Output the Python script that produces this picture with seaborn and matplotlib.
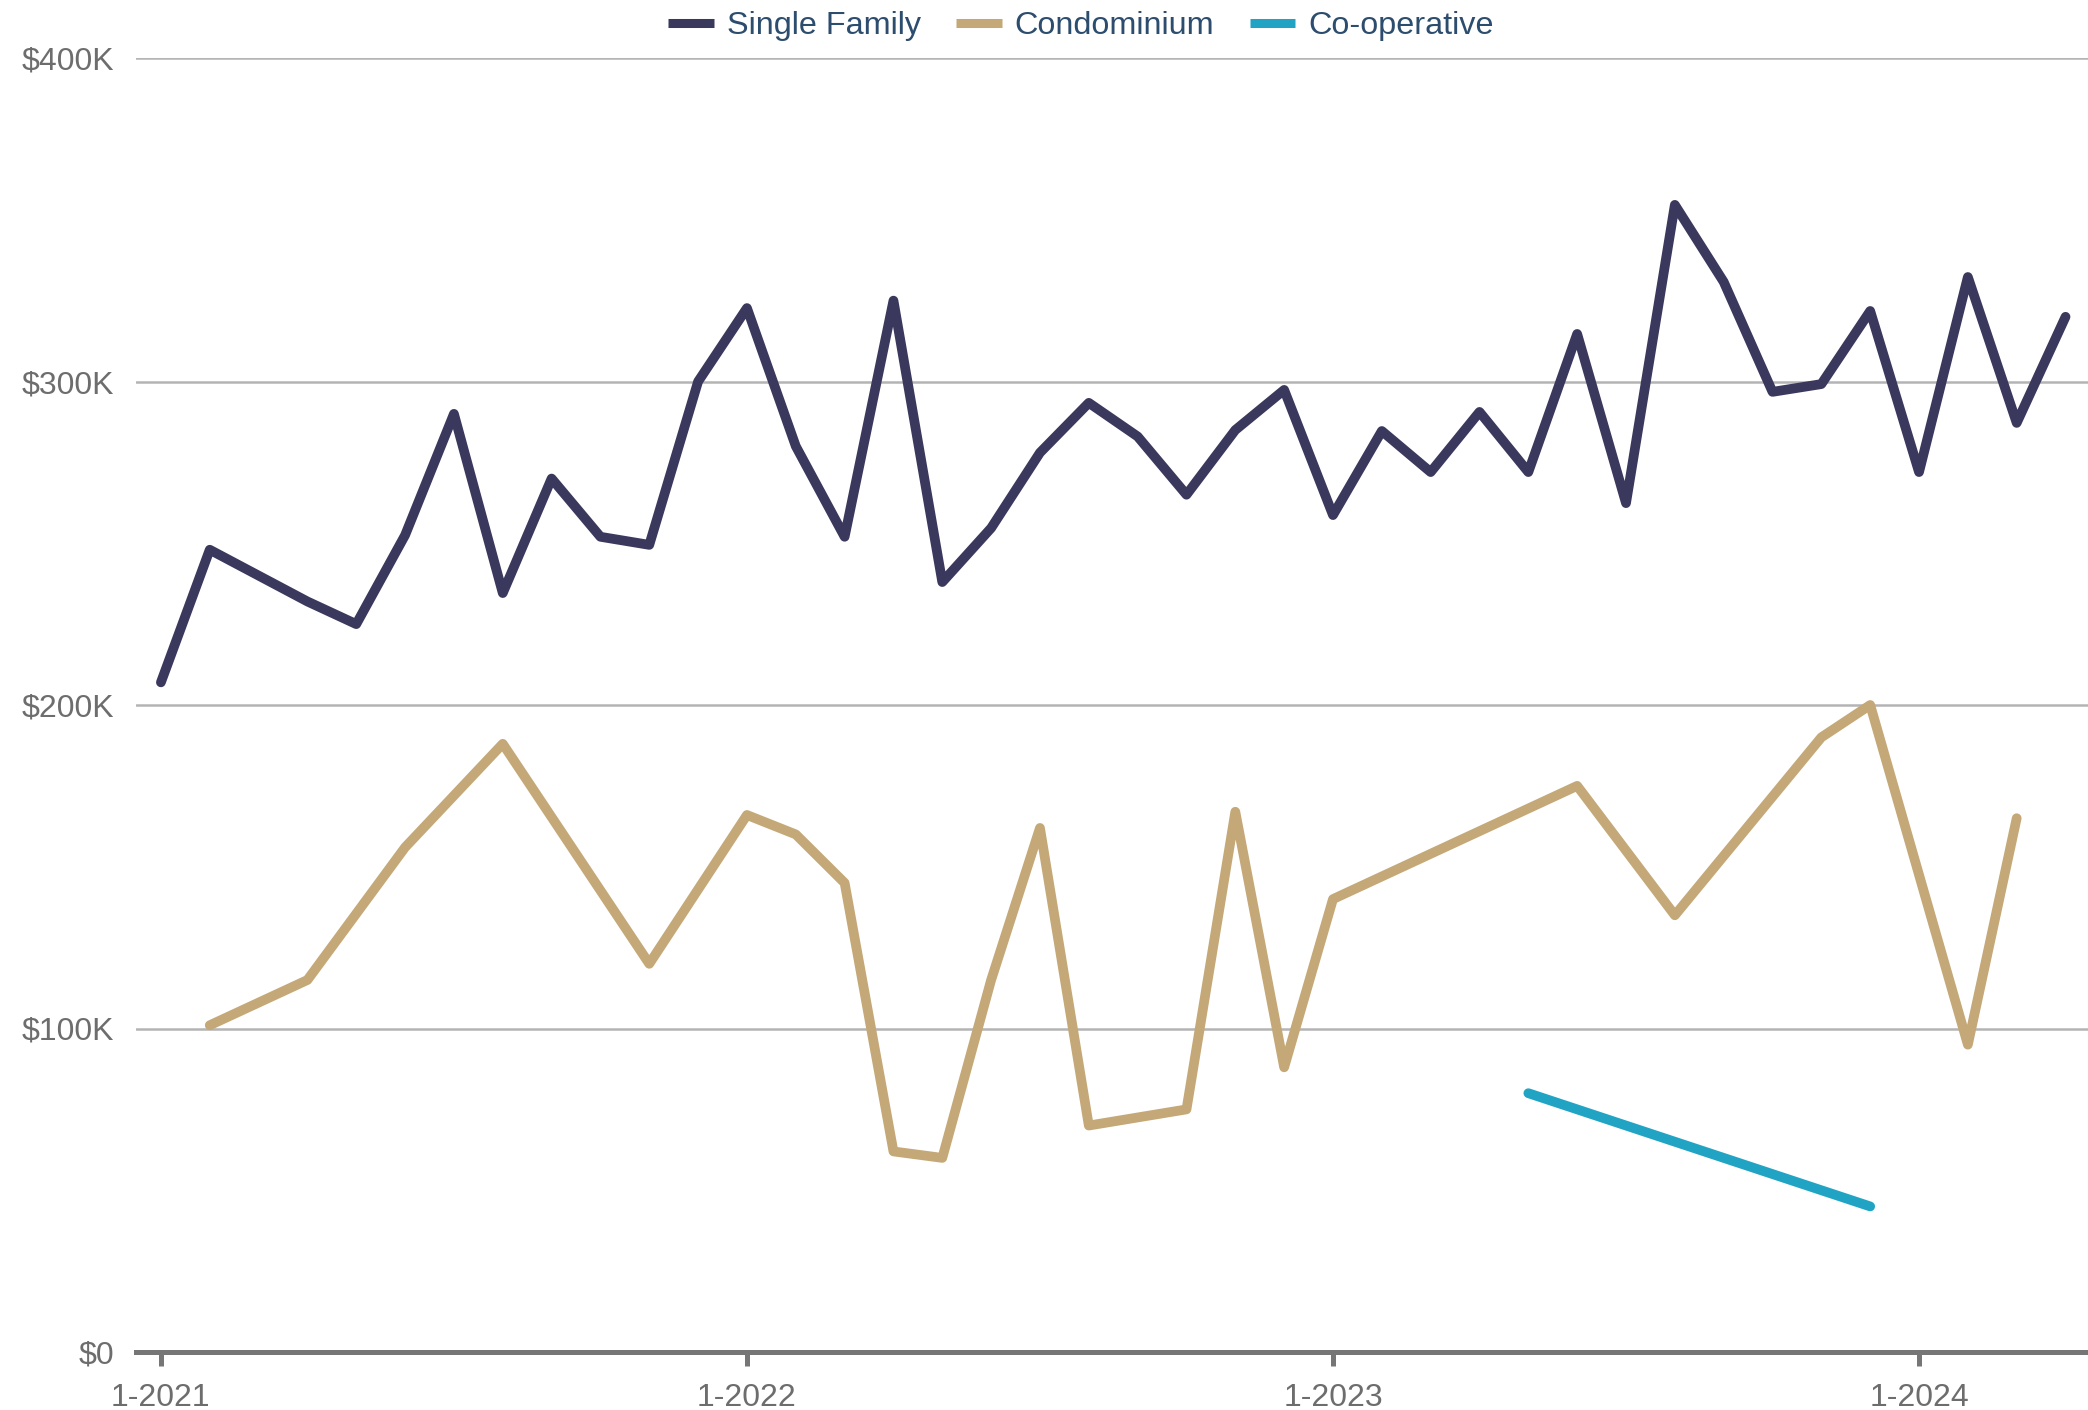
import numpy as np
import pandas as pd
import matplotlib
matplotlib.use("Agg")
import matplotlib.pyplot as plt
from matplotlib.lines import Line2D
from matplotlib.ticker import FuncFormatter
import seaborn as sns

nan = np.nan
# Monthly series, Jan 2021 .. Apr 2024 (values in $K)
month_index = list(range(40))
tick_positions = [0, 12, 24, 36]
tick_labels = ["1-2021", "1-2022", "1-2023", "1-2024"]
series_names = ["Single Family", "Condominium", "Co-operative"]

single_family = [207, 248, 240, 232, 225, 252.5, 290, 234.6, 270, 252,
                 249.5, 300, 322.7, 280, 252, 325, 238, 254.7, 278, 293.4,
                 283, 265, 285, 297.4, 258.7, 284.7, 272, 290.6, 272, 314.7,
                 262.4, 354.6, 330.8, 296.8, 299.2, 321.8, 272, 332.3, 287.2, 320]
condominium = [nan, 101, nan, 115, nan, 156, nan, 188, nan, nan,
               120, nan, 166, 160, 145, 62, 60, 115, 162, 70,
               nan, 75, 167, 88, 140, nan, nan, nan, nan, 175,
               nan, 135, nan, nan, 190, 200, nan, 95, 165, nan]
cooperative = [nan] * 28 + [80, nan, nan, nan, nan, nan, nan, 45, nan, nan, nan, nan]

colors = ["#3a385c", "#c4a877", "#21a4c4"]

sns.set_theme(style="white")
plt.rcParams['font.family'] = ['Liberation Sans', 'DejaVu Sans']

fig = plt.figure(figsize=(20.88, 14.10), dpi=100)
ax = fig.add_axes([136 / 2088, 1 - 1352 / 1410, (2088 - 136) / 2088, (1352 - 58) / 1410])

for name, vals, c in zip(series_names, [single_family, condominium, cooperative], colors):
    df = pd.DataFrame({"month": month_index, "value": vals}).dropna()
    sns.lineplot(data=df, x="month", y="value", ax=ax, color=c, linewidth=7,
                 solid_capstyle="round", solid_joinstyle="round", zorder=3)

ax.set_xlim(-0.51, 39.46)
ax.set_ylim(0, 400)
ax.set_yticks([0, 100, 200, 300, 400])
ax.yaxis.set_major_formatter(FuncFormatter(lambda v, p: "$0" if v == 0 else f"${int(v)}K"))
ax.set_xticks(tick_positions)
ax.set_xticklabels(tick_labels)
ax.set_xlabel("")
ax.set_ylabel("")

ax.grid(axis="y", color="#b4b4b4", linewidth=1.8, zorder=1)
ax.grid(axis="x", visible=False)
for s in ["top", "right", "left"]:
    ax.spines[s].set_visible(False)
ax.spines["bottom"].set_color("#767676")
ax.spines["bottom"].set_linewidth(3.6)
ax.spines["bottom"].set_zorder(4)

ax.tick_params(axis="x", which="major", bottom=True, length=10, width=3.6, color="#767676",
               labelsize=23, labelcolor="#6d6d6d", pad=12)
ax.tick_params(axis="y", which="major", left=False, length=0, labelsize=23,
               labelcolor="#6d6d6d", pad=16)

handles = [Line2D([0], [0], color=c, linewidth=6.5, solid_capstyle="butt") for c in colors]
leg = fig.legend(handles, series_names, loc="center", bbox_to_anchor=(0.5177, 0.9815),
                 ncol=3, frameon=False, fontsize=23.3, handlelength=1.4,
                 handletextpad=0.4, columnspacing=1.1, borderpad=0)
for t in leg.get_texts():
    t.set_color("#2d4d6e")

fig.savefig("out.png", dpi=100)
